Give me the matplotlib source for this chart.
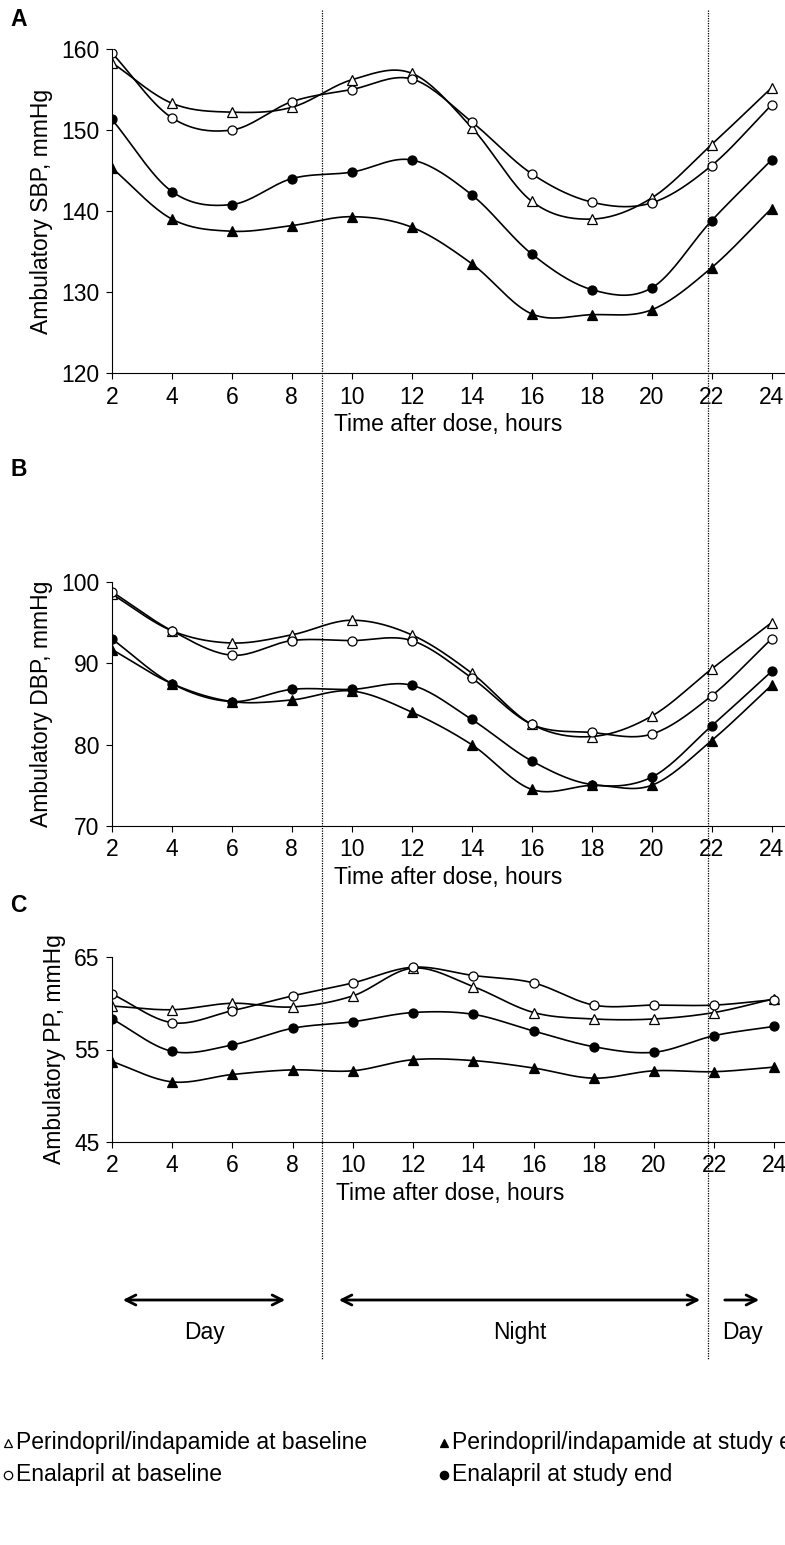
import numpy as np
import matplotlib.pyplot as plt
from matplotlib.lines import Line2D

hours = [2, 4, 6, 8, 10, 12, 14, 16, 18, 20, 22, 24]

sbp_peri_base = [158.3, 153.3, 152.2, 152.8, 156.2, 157.0, 150.3, 141.2, 139.0, 141.6, 148.2, 155.2]
sbp_enal_base = [159.5, 151.5, 150.0, 153.5, 155.0, 156.3, 151.0, 144.6, 141.1, 141.0, 145.6, 153.1]
sbp_enal_end = [151.3, 142.4, 140.8, 144.0, 144.8, 146.3, 142.0, 134.7, 130.3, 130.5, 138.8, 146.3]
sbp_peri_end = [145.3, 139.0, 137.5, 138.2, 139.3, 138.0, 133.5, 127.3, 127.2, 127.8, 133.0, 140.3]

dbp_peri_base = [98.5, 94.0, 92.5, 93.5, 95.3, 93.5, 88.8, 82.5, 81.0, 83.5, 89.3, 95.0]
dbp_enal_base = [98.8, 94.0, 91.0, 92.8, 92.8, 92.8, 88.2, 82.5, 81.5, 81.3, 86.0, 93.0]
dbp_enal_end = [93.0, 87.5, 85.3, 86.8, 86.8, 87.3, 83.1, 78.0, 75.1, 76.0, 82.3, 89.0]
dbp_peri_end = [91.7, 87.5, 85.3, 85.5, 86.6, 84.0, 80.0, 74.5, 75.0, 75.0, 80.5, 87.3]

pp_peri_base = [59.7, 59.3, 60.0, 59.6, 60.8, 63.8, 61.8, 59.0, 58.3, 58.3, 59.0, 60.5]
pp_enal_base = [61.0, 57.9, 59.2, 60.8, 62.2, 63.9, 63.0, 62.2, 59.8, 59.8, 59.8, 60.4]
pp_enal_end = [58.3, 54.8, 55.5, 57.3, 58.0, 59.0, 58.8, 57.0, 55.3, 54.7, 56.5, 57.5]
pp_peri_end = [53.7, 51.5, 52.3, 52.8, 52.7, 53.9, 53.8, 53.0, 51.9, 52.7, 52.6, 53.1]


def smooth(x, y, n=20):
    # Catmull-Rom spline through the points, for the drawn curve only
    x = np.asarray(x, float)
    y = np.asarray(y, float)
    px = np.concatenate([[2 * x[0] - x[1]], x, [2 * x[-1] - x[-2]]])
    py = np.concatenate([[2 * y[0] - y[1]], y, [2 * y[-1] - y[-2]]])
    xs, ys = [], []
    t = np.linspace(0, 1, n, endpoint=False)
    for i in range(1, len(px) - 2):
        for arr, out in ((px, xs), (py, ys)):
            p0, p1, p2, p3 = arr[i - 1:i + 3]
            out.extend(0.5 * (2 * p1 + (-p0 + p2) * t + (2 * p0 - 5 * p1 + 4 * p2 - p3) * t ** 2
                              + (-p0 + 3 * p1 - 3 * p2 + p3) * t ** 3))
    xs.append(x[-1])
    ys.append(y[-1])
    return xs, ys


W, H = 785, 1545
FS = 16.5
fig = plt.figure(figsize=(W / 100, H / 100), dpi=100)
plt.rcParams['font.family'] = ['Liberation Sans', 'DejaVu Sans']


def box(l, r, t, b):
    return [l / W, 1 - b / H, (r - l) / W, (b - t) / H]


styles = [
    ('^', 'white'), ('o', 'white'), ('o', 'black'), ('^', 'black'),
]

panels = [
    ("A", box(112, 785, 49, 373), (120, 160), [120, 130, 140, 150, 160], "Ambulatory SBP, mmHg",
     [sbp_peri_base, sbp_enal_base, sbp_enal_end, sbp_peri_end], 20),
    ("B", box(112, 785, 582, 826), (70, 100), [70, 80, 90, 100], "Ambulatory DBP, mmHg",
     [dbp_peri_base, dbp_enal_base, dbp_enal_end, dbp_peri_end], 470),
    ("C", box(112, 788, 957, 1142), (45, 65), [45, 55, 65], "Ambulatory PP, mmHg",
     [pp_peri_base, pp_enal_base, pp_enal_end, pp_peri_end], 905),
]

for letter, rect, ylim, yt, ylabel, series, ly in panels:
    ax = fig.add_axes(rect)
    for vals, (m, fc) in zip(series, styles):
        sx, sy = smooth(hours, vals)
        ax.plot(sx, sy, color='black', lw=1.2)
        ax.plot(hours, vals, ls='none', marker=m, ms=6.5, mfc=fc, mec='black', mew=0.9)
    ax.set_xlim(2, 24.45)
    ax.set_ylim(*ylim)
    ax.set_yticks(yt)
    ax.set_xticks(hours)
    ax.tick_params(labelsize=FS, direction='out', length=4, pad=5)
    ax.spines['top'].set_visible(False)
    ax.spines['right'].set_visible(False)
    ax.set_ylabel(ylabel, fontsize=FS, labelpad=6)
    ax.set_xlabel("Time after dose, hours", fontsize=FS, labelpad=3)
    ax.patch.set_alpha(0)
    fig.text(10 / W, 1 - ly / H, letter, fontsize=FS, fontweight='bold', va='center')

# day/night separators
for xp in (322, 708):
    fig.add_artist(Line2D([xp / W, xp / W], [1 - 10 / H, 1 - 1360 / H], color='black',
                          lw=0.9, ls=(0, (1, 1))))

arrows = [(120, 288, "Day", '<->'), (336, 703, "Night", '<->'), (722, 762, "Day", '->')]
for x0, x1, lab, style in arrows:
    fig.add_artist(plt.matplotlib.patches.FancyArrowPatch(
        (x0 / W, 1 - 1300 / H), (x1 / W, 1 - 1300 / H), transform=fig.transFigure,
        arrowstyle=style, mutation_scale=18, lw=2, color='black'))
    fig.text((x0 + x1) / 2 / W, 1 - 1332 / H, lab, fontsize=FS, ha='center', va='center')

legend = [
    (3, 1443, '^', 'white', "Perindopril/indapamide at baseline"),
    (439, 1443, '^', 'black', "Perindopril/indapamide at study end"),
    (3, 1475, 'o', 'white', "Enalapril at baseline"),
    (439, 1475, 'o', 'black', "Enalapril at study end"),
]
for x, y, m, fc, lab in legend:
    fig.add_artist(Line2D([(x + 5) / W], [1 - y / H], marker=m, ms=6, mfc=fc, mec='black',
                          mew=0.9, ls='none'))
    fig.text((x + 13) / W, 1 - y / H, lab, fontsize=FS, va='center')

fig.savefig("out.png", dpi=100)
